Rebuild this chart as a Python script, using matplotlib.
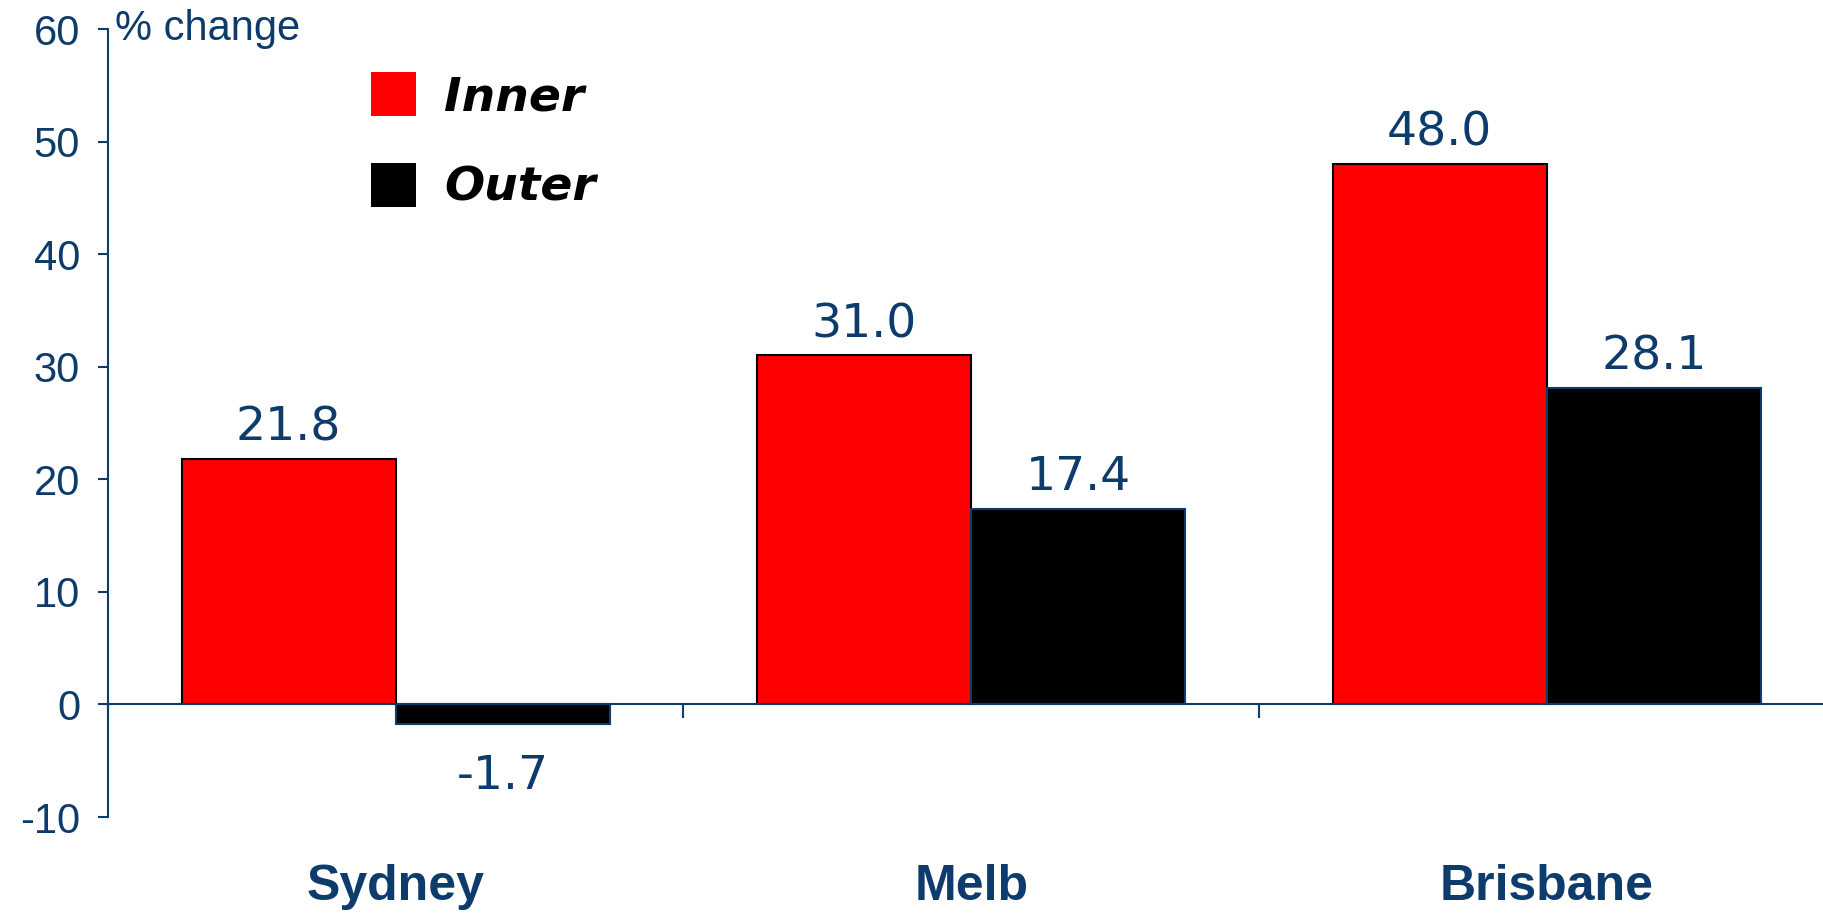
import numpy as np
import matplotlib.pyplot as plt
from matplotlib.patches import Patch
import matplotlib.transforms as mtransforms

# data
cities = ['Sydney', 'Melb', 'Brisbane']
inner = [21.8, 31.0, 48.0]
outer = [-1.7, 17.4, 28.1]
yticks = [-10, 0, 10, 20, 30, 40, 50, 60]

navy = '#0d3b6b'

fig = plt.figure(figsize=(18.23, 9.15), dpi=100)
ax = fig.add_axes([0.0592, 0.1071, 0.9471, 0.8612])

x = np.arange(len(cities))
w = 0.372
b1 = ax.bar(x - w / 2, inner, w, color='#ff0000', edgecolor='black', linewidth=1.5, label='Inner')
b2 = ax.bar(x + w / 2, outer, w, color='black', edgecolor=navy, linewidth=1.5, label='Outer')

ax.set_xlim(-0.5, 2.5)
ax.set_ylim(-10, 60)

# value labels
for bars, vals in [(b1, inner), (b2, outer)]:
    for r, v in zip(bars, vals):
        cx = r.get_x() + r.get_width() / 2
        if v >= 0:
            ax.annotate(f'{v:.1f}', (cx, v), xytext=(0, 6), textcoords='offset points',
                        ha='center', va='bottom', fontsize=34, color=navy, family='DejaVu Sans')
        else:
            ax.annotate(f'{v:.1f}', (cx, v), xytext=(0, -22), textcoords='offset points',
                        ha='center', va='top', fontsize=34, color=navy, family='DejaVu Sans')

# axes styling
for s in ['top', 'right']:
    ax.spines[s].set_visible(False)
ax.spines['bottom'].set_position(('data', 0))
ax.spines['bottom'].set_color(navy)
ax.spines['left'].set_color(navy)
ax.spines['bottom'].set_linewidth(1.5)
ax.spines['left'].set_linewidth(1.5)

ax.set_yticks(yticks)
ax.set_yticklabels([str(t) for t in yticks], fontsize=30, color=navy, family='Liberation Sans')
ax.tick_params(axis='y', direction='out', length=7, width=1.5, color=navy, pad=13)

ax.set_xticks(x)
ax.set_xticklabels(cities, fontsize=36, fontweight='bold', color=navy, family='Liberation Sans')
ax.set_xticks([-0.5, 0.5, 1.5, 2.5], minor=True)
ax.tick_params(axis='x', which='major', length=0, pad=115)
ax.tick_params(axis='x', which='minor', direction='out', length=10, width=1.5, color=navy)

trans = mtransforms.blended_transform_factory(ax.transAxes, ax.transData)
ax.text(0.004, 60, '% change', transform=trans, ha='left', va='center',
        fontsize=30, color=navy, family='Liberation Sans')

handles = [Patch(facecolor='#ff0000', edgecolor='none'), Patch(facecolor='black', edgecolor='none')]
leg = ax.legend(handles, ['Inner', 'Outer'], loc='upper left', bbox_to_anchor=(0.128, 0.999),
                frameon=False, handlelength=0.94, handleheight=1.05, handletextpad=0.6,
                labelspacing=0.9,
                prop={'family': 'DejaVu Sans', 'weight': 'bold', 'style': 'oblique', 'size': 34})

fig.savefig('out.png', dpi=100)
